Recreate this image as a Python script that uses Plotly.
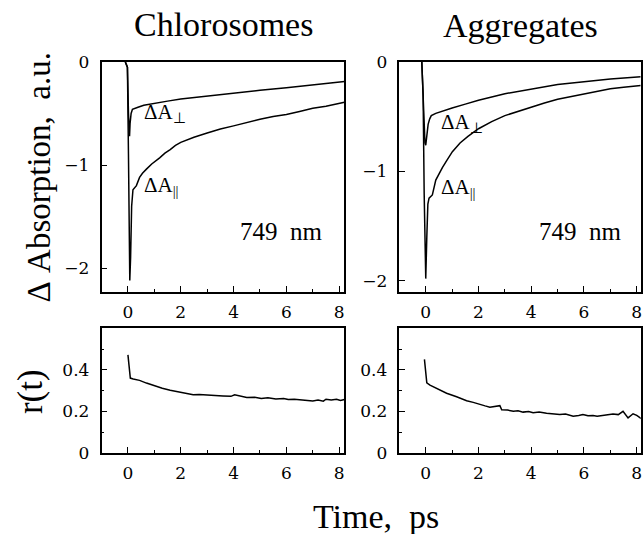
import plotly.graph_objects as go

# ---------------- data ----------------
# Chlorosomes, delta A parallel
chl_par_t = [-0.1, -0.02, 0.02, 0.05, 0.07, 0.1, 0.14, 0.19, 0.25, 0.32, 0.44, 0.55, 0.7, 0.9,
             1.2, 1.4, 1.6, 1.8, 2.0, 2.5, 3.0, 3.5, 4.0, 4.5, 5.0, 5.5, 6.0, 6.5, 7.0, 7.5, 8.2]
chl_par = [0, -0.05, -0.9, -1.8, -2.12, -1.9, -1.4, -1.24, -1.22, -1.2, -1.12, -1.08, -1.04, -0.99,
           -0.93, -0.885, -0.85, -0.81, -0.78, -0.73, -0.69, -0.65, -0.62, -0.585, -0.555, -0.53,
           -0.51, -0.48, -0.45, -0.43, -0.39]
# Chlorosomes, delta A perpendicular
chl_perp_t = [-0.1, -0.02, 0.02, 0.04, 0.06, 0.08, 0.12, 0.17, 0.25, 0.38, 0.6, 1.0, 1.5, 2.0,
              3.0, 4.0, 5.0, 6.0, 7.0, 8.2]
chl_perp = [0, -0.05, -0.5, -0.68, -0.72, -0.6, -0.5, -0.46, -0.45, -0.44, -0.42, -0.40, -0.38,
            -0.36, -0.33, -0.305, -0.275, -0.25, -0.22, -0.19]
# Aggregates, delta A parallel
agg_par_t = [-0.15, -0.1, -0.06, -0.03, 0.0, 0.04, 0.08, 0.125, 0.25, 0.38, 0.5, 0.63, 0.8, 1.01,
             1.3, 1.6, 2.0, 2.5, 3.0, 3.5, 4.0, 4.5, 5.0, 5.5, 6.0, 6.5, 7.0, 7.5, 8.15]
agg_par = [0, -0.3, -1.2, -1.9, -1.98, -1.6, -1.3, -1.245, -1.215, -1.08, -1.02, -0.965, -0.9,
           -0.82, -0.74, -0.68, -0.61, -0.545, -0.49, -0.45, -0.41, -0.375, -0.34, -0.315, -0.29,
           -0.265, -0.245, -0.23, -0.215]
# Aggregates, delta A perpendicular
agg_perp_t = [-0.15, -0.1, -0.06, -0.03, 0.0, 0.04, 0.09, 0.15, 0.21, 0.38, 0.6, 1.0, 1.5, 2.0,
              3.0, 4.0, 5.0, 6.0, 7.0, 8.15]
agg_perp = [0, -0.3, -0.6, -0.74, -0.76, -0.65, -0.57, -0.52, -0.49, -0.47, -0.45, -0.42, -0.385,
            -0.35, -0.29, -0.245, -0.205, -0.18, -0.155, -0.135]
# Chlorosomes anisotropy r(t)
chl_r_t = [0.0, 0.09, 0.2, 0.44, 0.7, 0.99, 1.3, 1.6, 2.0, 2.3, 2.47, 2.7, 3.0, 3.3, 3.6, 3.9,
           4.04, 4.2, 4.5, 4.8, 5.05, 5.3, 5.6, 5.9, 6.07, 6.3, 6.6, 6.9, 7.0, 7.2, 7.4, 7.5, 7.7,
           7.9, 8.05, 8.2]
chl_r = [0.472, 0.36, 0.356, 0.349, 0.336, 0.323, 0.311, 0.301, 0.292, 0.285, 0.28, 0.281, 0.277,
         0.276, 0.274, 0.272, 0.28, 0.275, 0.266, 0.268, 0.262, 0.265, 0.259, 0.262, 0.257, 0.258,
         0.254, 0.252, 0.25, 0.254, 0.249, 0.258, 0.254, 0.258, 0.252, 0.257]
# Aggregates anisotropy r(t)
agg_r_t = [-0.05, 0.04, 0.16, 0.42, 0.79, 1.17, 1.55, 1.8, 2.06, 2.25, 2.43, 2.62, 2.81, 2.88,
           3.1, 3.32, 3.5, 3.69, 3.9, 4.07, 4.3, 4.58, 4.8, 5.08, 5.3, 5.59, 5.8, 5.96, 6.15, 6.34,
           6.5, 6.72, 6.9, 7.1, 7.3, 7.48, 7.67, 7.86, 8.0, 8.17]
agg_r = [0.45, 0.337, 0.326, 0.309, 0.287, 0.27, 0.251, 0.243, 0.231, 0.226, 0.22, 0.223, 0.227,
         0.207, 0.206, 0.2, 0.203, 0.196, 0.199, 0.193, 0.196, 0.19, 0.186, 0.184, 0.187, 0.176,
         0.18, 0.184, 0.178, 0.18, 0.176, 0.18, 0.183, 0.187, 0.184, 0.2, 0.168, 0.188, 0.18, 0.165]

x_ticks = [0, 2, 4, 6, 8]
x_minor = [1, 3, 5, 7]
da_ticks = [-2, -1, 0]
da_labels = ["\u22122", "\u22121", "0"]
r_ticks = [0, 0.2, 0.4]
r_labels = ["0", "0.2", "0.4"]
r_minor = [0.1, 0.3, 0.5]

titles = ["Chlorosomes", "Aggregates"]

# ---------------- figure ----------------
W, H = 644, 534
fig = go.Figure()
line = dict(color="black", width=1.5)

fig.add_trace(go.Scatter(x=chl_par_t, y=chl_par, mode="lines", line=line, xaxis="x", yaxis="y"))
fig.add_trace(go.Scatter(x=chl_perp_t, y=chl_perp, mode="lines", line=line, xaxis="x", yaxis="y"))
fig.add_trace(go.Scatter(x=agg_par_t, y=agg_par, mode="lines", line=line, xaxis="x2", yaxis="y2"))
fig.add_trace(go.Scatter(x=agg_perp_t, y=agg_perp, mode="lines", line=line, xaxis="x2", yaxis="y2"))
fig.add_trace(go.Scatter(x=chl_r_t, y=chl_r, mode="lines", line=line, xaxis="x3", yaxis="y3"))
fig.add_trace(go.Scatter(x=agg_r_t, y=agg_r, mode="lines", line=line, xaxis="x4", yaxis="y4"))

tick_font = dict(family="DejaVu Serif", size=17, color="black")


def px_dom(a, b, total):
    return [a / total, b / total]


def py_dom(top, bottom):
    return [1 - bottom / H, 1 - top / H]


left_dom = px_dom(101.7, 345, W)
right_dom = px_dom(400, 641.7, W)
top_dom = py_dom(54, 292.7)
bot_dom = py_dom(330.7, 460)

common = dict(showline=True, linecolor="black", linewidth=1.5, mirror=True, showgrid=False,
              zeroline=False, ticks="inside", tickcolor="black", tickwidth=1.2,
              tickfont=tick_font, ticklabeloverflow="allow")


def xax(dom, anchor, rng):
    return dict(common, domain=dom, anchor=anchor, range=rng, tickmode="array",
                tickvals=x_ticks, ticktext=[str(v) for v in x_ticks], ticklen=6,
                ticklabelstandoff=4,
                minor=dict(tickmode="array", tickvals=x_minor, ticks="inside", ticklen=3,
                           tickcolor="black", tickwidth=1.2, showgrid=False))


def yax_da(dom, anchor, rng):
    return dict(common, domain=dom, anchor=anchor, range=rng, tickmode="array",
                tickvals=da_ticks, ticktext=da_labels, ticklen=6, ticklabelstandoff=7)


def yax_r(dom, anchor):
    return dict(common, domain=dom, anchor=anchor, range=[0, 0.6], tickmode="array",
                tickvals=r_ticks, ticktext=r_labels, ticklen=6, ticklabelstandoff=7,
                minor=dict(tickmode="array", tickvals=r_minor, ticks="inside", ticklen=3,
                           tickcolor="black", tickwidth=1.2, showgrid=False))


fig.update_layout(
    width=W, height=H, margin=dict(l=0, r=0, t=0, b=0),
    paper_bgcolor="white", plot_bgcolor="white", showlegend=False,
    xaxis=xax(left_dom, "y", [-1, 8.2]),
    yaxis=yax_da(top_dom, "x", [-2.23, 0]),
    xaxis2=xax(right_dom, "y2", [-1, 8.15]),
    yaxis2=yax_da(top_dom, "x2", [-2.1, 0]),
    xaxis3=xax(left_dom, "y3", [-1, 8.2]),
    yaxis3=yax_r(bot_dom, "x3"),
    xaxis4=xax(right_dom, "y4", [-1, 8.15]),
    yaxis4=yax_r(bot_dom, "x4"),
)

serif = "Liberation Serif"
ann = []
# panel titles
ann.append(dict(text=titles[0], x=(left_dom[0] + left_dom[1]) / 2, y=1 - 15 / H,
                xref="paper", yref="paper", showarrow=False, xanchor="center", yanchor="middle",
                font=dict(family=serif, size=34, color="black")))
ann.append(dict(text=titles[1], x=(right_dom[0] + right_dom[1]) / 2, y=1 - 16 / H,
                xref="paper", yref="paper", showarrow=False, xanchor="center", yanchor="middle",
                font=dict(family=serif, size=34, color="black")))
# axis titles
ann.append(dict(text="\u0394\u00a0Absorption,\u00a0\u00a0a.u.", x=40 / W, y=1 - 174 / H,
                xref="paper", yref="paper", showarrow=False, textangle=-90,
                xanchor="center", yanchor="middle",
                font=dict(family=serif, size=33, color="black")))
ann.append(dict(text="r(t)", x=30 / W, y=1 - 396 / H, xref="paper", yref="paper",
                showarrow=False, textangle=-90, xanchor="center", yanchor="middle",
                font=dict(family=serif, size=35, color="black")))
ann.append(dict(text="Time,\u00a0\u00a0ps", x=377 / W, y=1 - 526 / H, xref="paper",
                yref="paper", showarrow=False, xanchor="center", yanchor="middle",
                font=dict(family=serif, size=34, color="black")))
# in-panel labels
lab_font = dict(family=serif, size=21, color="black")
ann += [
    dict(text="\u0394A<sub>\u22a5</sub>", x=0.52, y=-0.50, xref="x", yref="y",
         showarrow=False, xanchor="left", yanchor="middle", font=lab_font),
    dict(text="\u0394A<sub>||</sub>", x=0.52, y=-1.20, xref="x", yref="y",
         showarrow=False, xanchor="left", yanchor="middle", font=lab_font),
    dict(text="749\u00a0\u00a0nm", x=5.82, y=-1.65, xref="x", yref="y",
         showarrow=False, xanchor="center", yanchor="middle",
         font=dict(family=serif, size=25, color="black")),
    dict(text="\u0394A<sub>\u22a5</sub>", x=0.52, y=-0.56, xref="x2", yref="y2",
         showarrow=False, xanchor="left", yanchor="middle", font=lab_font),
    dict(text="\u0394A<sub>||</sub>", x=0.52, y=-1.15, xref="x2", yref="y2",
         showarrow=False, xanchor="left", yanchor="middle", font=lab_font),
    dict(text="749\u00a0\u00a0nm", x=5.85, y=-1.55, xref="x2", yref="y2",
         showarrow=False, xanchor="center", yanchor="middle",
         font=dict(family=serif, size=25, color="black")),
]
fig.update_layout(annotations=ann)

fig.write_html("out.html", config={"displayModeBar": False},
               post_script="document.body.style.margin='0';document.body.style.overflow='hidden';")
